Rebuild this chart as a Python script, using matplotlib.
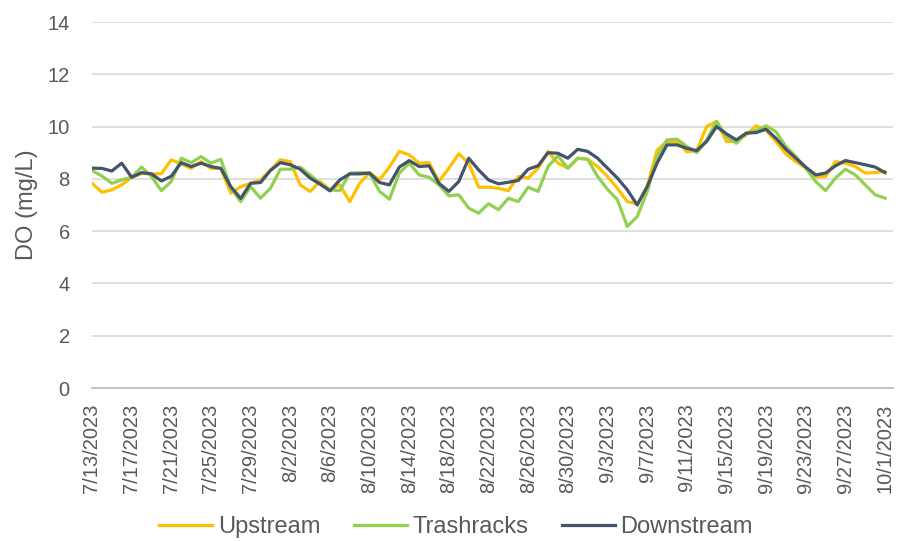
import numpy as np
import pandas as pd
import matplotlib
matplotlib.use("Agg")
import matplotlib.pyplot as plt

plt.rcParams['font.family'] = ['Liberation Sans', 'DejaVu Sans']

# daily dates 7/13/2023 - 10/1/2023
dates = pd.date_range("2023-07-13", "2023-10-01", freq="D")
date_labels = [f"{d.month}/{d.day}/{d.year}" for d in dates]

upstream = [7.83, 7.49, 7.58, 7.77, 8.06, 8.20, 8.19, 8.20, 8.73, 8.57,
            8.40, 8.66, 8.40, 8.40, 7.45, 7.70, 7.83, 7.96, 8.34, 8.73,
            8.66, 7.77, 7.52, 7.90, 7.58, 7.77, 7.13, 7.83, 8.24, 7.96,
            8.45, 9.05, 8.92, 8.60, 8.62, 7.90, 8.41, 8.96, 8.60, 7.68,
            7.68, 7.64, 7.55, 8.09, 8.03, 8.41, 9.05, 8.60, 8.41, 8.79,
            8.75, 8.47, 8.09, 7.64, 7.13, 7.04, 7.70, 9.10, 9.43, 9.43,
            9.04, 9.08, 10.00, 10.20, 9.43, 9.43, 9.68, 10.03, 9.85, 9.43,
            8.95, 8.66, 8.41, 8.09, 8.09, 8.66, 8.60, 8.47, 8.22, 8.24,
            8.28]

trashracks = [8.32, 8.11, 7.83, 7.96, 8.06, 8.45, 8.09, 7.55, 7.90, 8.79,
              8.62, 8.85, 8.60, 8.75, 7.65, 7.13, 7.70, 7.26, 7.64, 8.37,
              8.37, 8.45, 8.15, 7.83, 7.58, 7.55, 8.22, 8.24, 8.22, 7.52,
              7.22, 8.22, 8.60, 8.15, 8.06, 7.77, 7.35, 7.39, 6.88, 6.69,
              7.05, 6.82, 7.26, 7.13, 7.68, 7.52, 8.47, 8.88, 8.41, 8.79,
              8.75, 8.09, 7.60, 7.20, 6.18, 6.56, 7.50, 8.85, 9.49, 9.52,
              9.24, 9.00, 9.49, 10.20, 9.62, 9.36, 9.75, 9.85, 10.03, 9.80,
              9.24, 8.85, 8.41, 7.90, 7.55, 8.03, 8.37, 8.15, 7.77, 7.39,
              7.26]

downstream = [8.41, 8.40, 8.30, 8.60, 8.06, 8.24, 8.19, 7.92, 8.10, 8.62,
              8.47, 8.60, 8.47, 8.40, 7.70, 7.25, 7.83, 7.86, 8.32, 8.62,
              8.54, 8.37, 8.03, 7.80, 7.54, 7.96, 8.19, 8.19, 8.22, 7.86,
              7.77, 8.45, 8.70, 8.47, 8.50, 7.83, 7.52, 7.90, 8.79, 8.34,
              7.96, 7.81, 7.87, 7.94, 8.37, 8.50, 9.00, 8.98, 8.79, 9.13,
              9.05, 8.79, 8.41, 8.03, 7.58, 7.00, 7.70, 8.60, 9.30, 9.30,
              9.17, 9.08, 9.43, 10.00, 9.72, 9.49, 9.75, 9.77, 9.90, 9.55,
              9.13, 8.79, 8.45, 8.15, 8.22, 8.50, 8.70, 8.62, 8.54, 8.45,
              8.24]

x = np.arange(len(dates))

fig = plt.figure(figsize=(8.98, 5.41), dpi=100)
ax = fig.add_axes([92 / 898, 1 - 388 / 541, (893 - 92) / 898, (388 - 22) / 541])

ax.plot(x, upstream, color='#FFC000', lw=2.3, label='Upstream')
ax.plot(x, trashracks, color='#92D050', lw=2.3, label='Trashracks')
ax.plot(x, downstream, color='#44546A', lw=2.3, label='Downstream')

ax.set_xlim(0, 80.8)
ax.set_ylim(0, 14)
ax.set_yticks(np.arange(0, 15, 2))
ax.set_xticks(x[::4], labels=date_labels[::4], rotation=90)

ax.grid(axis='y', color='#d9d9d9', lw=1.2)
ax.set_axisbelow(True)
for s in ['top', 'right', 'left']:
    ax.spines[s].set_visible(False)
ax.spines['bottom'].set_color('#bfbfbf')
ax.spines['bottom'].set_linewidth(1.3)
ax.tick_params(axis='both', length=0, labelsize=14.5, labelcolor='#595959')
ax.tick_params(axis='x', pad=11)
ax.tick_params(axis='y', pad=16)
ax.set_ylabel('DO (mg/L)', fontsize=17, color='#595959', labelpad=7)

fig.legend(loc='center', bbox_to_anchor=(456 / 898, 1 - 527 / 541), ncol=3,
           frameon=False, fontsize=17, handlelength=2.25, handletextpad=0.25,
           columnspacing=1.4, labelcolor='#595959')

fig.savefig('out.png', dpi=100)
